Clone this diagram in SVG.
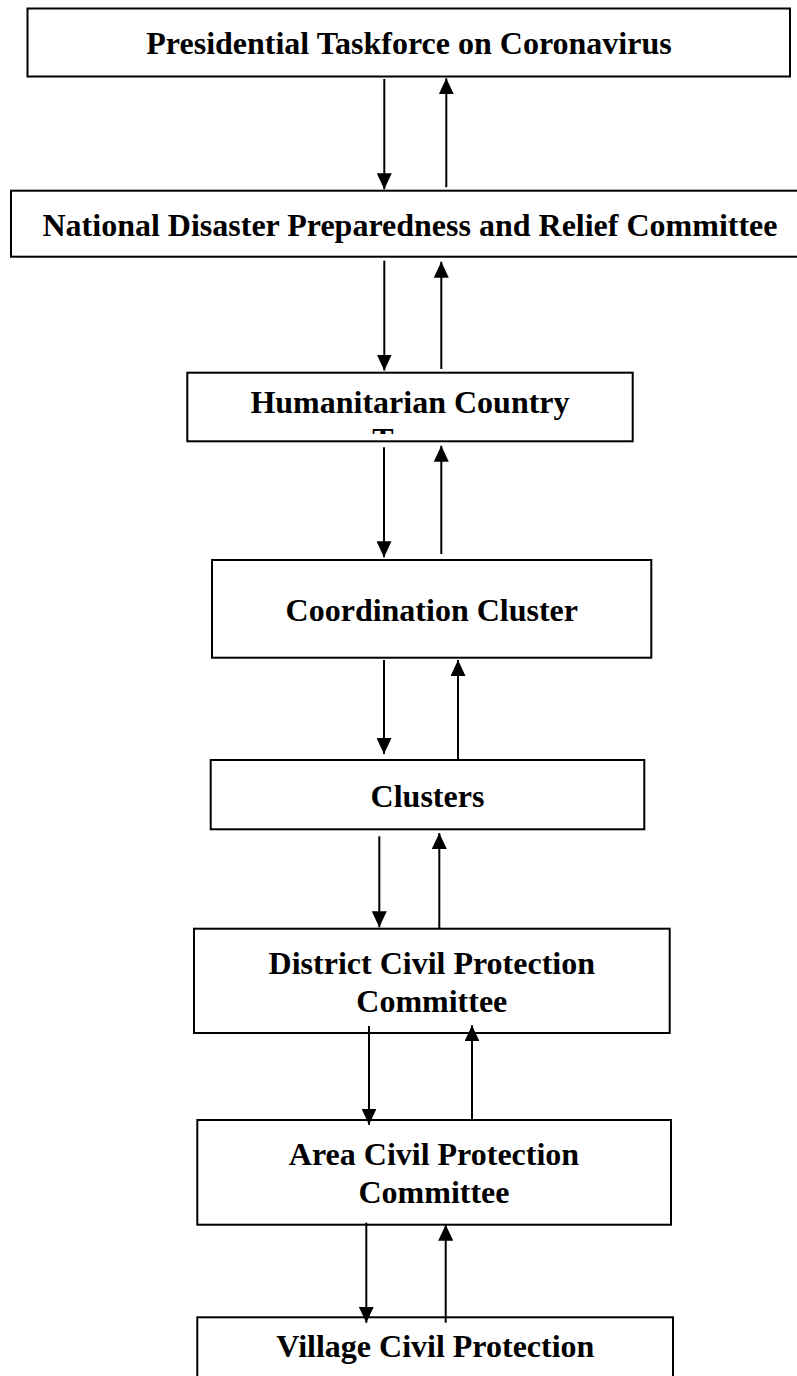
<svg xmlns="http://www.w3.org/2000/svg" width="797" height="1376" viewBox="0 0 797 1376">
<style>
.box{fill:#fff;stroke:#000;stroke-width:2}
.lbl{font-family:"Liberation Serif","Times New Roman",serif;font-weight:bold;font-size:32px;fill:#000;text-anchor:middle}
.c{stroke:#000;stroke-width:2;fill:none}
</style>
<defs>
<marker id="ah" markerUnits="userSpaceOnUse" markerWidth="16" markerHeight="15" refX="16" refY="7.5" orient="auto" viewBox="0 0 16 15">
<path d="M0,0 L16,7.5 L0,15 z" fill="#000"/>
</marker>
<clipPath id="clipHum"><rect x="188" y="373" width="444" height="61"/></clipPath>
</defs>
<rect width="797" height="1376" fill="#fff"/>
<g id="n1"><rect class="box" x="27.5" y="8.5" width="762.5" height="68"/><text class="lbl" x="409" y="54.3">Presidential Taskforce on Coronavirus</text></g>
<g id="n2"><rect class="box" x="11" y="190.7" width="798" height="66"/><text class="lbl" x="410" y="236">National Disaster Preparedness and Relief Committee</text></g>
<g id="n3"><rect class="box" x="187.3" y="372.7" width="445.4" height="68.6"/><text class="lbl" x="410" y="413.3">Humanitarian Country</text><text class="lbl" x="410" y="450" clip-path="url(#clipHum)">Team</text></g>
<g id="n4"><rect class="box" x="212" y="560" width="439.3" height="97.7"/><text class="lbl" x="431.8" y="620.7">Coordination Cluster</text></g>
<g id="n5"><rect class="box" x="210.7" y="760" width="433.6" height="69.3"/><text class="lbl" x="427.5" y="806.7">Clusters</text></g>
<g id="n6"><rect class="box" x="194" y="928.7" width="475.7" height="104.3"/><text class="lbl" x="431.8" y="974">District Civil Protection</text><text class="lbl" x="431.8" y="1012">Committee</text></g>
<g id="n7"><rect class="box" x="197.3" y="1120" width="473.7" height="104.7"/><text class="lbl" x="434" y="1165">Area Civil Protection</text><text class="lbl" x="434" y="1203">Committee</text></g>
<g id="n8"><rect class="box" x="197.3" y="1317.3" width="475.7" height="100"/><text class="lbl" x="435.3" y="1357">Village Civil Protection</text></g>
<g id="connectors">
<line class="c" x1="384.3" y1="79" x2="384.3" y2="189.3" marker-end="url(#ah)"/>
<line class="c" x1="446.3" y1="187.3" x2="446.3" y2="78.3" marker-end="url(#ah)"/>
<line class="c" x1="384.3" y1="260.7" x2="384.3" y2="370.5" marker-end="url(#ah)"/>
<line class="c" x1="441.3" y1="369" x2="441.3" y2="261.7" marker-end="url(#ah)"/>
<line class="c" x1="384" y1="447.3" x2="384" y2="557.3" marker-end="url(#ah)"/>
<line class="c" x1="441.3" y1="554" x2="441.3" y2="445.7" marker-end="url(#ah)"/>
<line class="c" x1="384" y1="660" x2="384" y2="754" marker-end="url(#ah)"/>
<line class="c" x1="458" y1="760" x2="458" y2="660" marker-end="url(#ah)"/>
<line class="c" x1="379.3" y1="836.3" x2="379.3" y2="927.3" marker-end="url(#ah)"/>
<line class="c" x1="439.3" y1="928" x2="439.3" y2="833" marker-end="url(#ah)"/>
<line class="c" x1="369" y1="1026" x2="369" y2="1124.7" marker-end="url(#ah)"/>
<line class="c" x1="472" y1="1119.3" x2="472" y2="1025.3" marker-end="url(#ah)"/>
<line class="c" x1="366.3" y1="1222.7" x2="366.3" y2="1322.7" marker-end="url(#ah)"/>
<line class="c" x1="445.7" y1="1322.7" x2="445.7" y2="1224.7" marker-end="url(#ah)"/>
</g>
</svg>
